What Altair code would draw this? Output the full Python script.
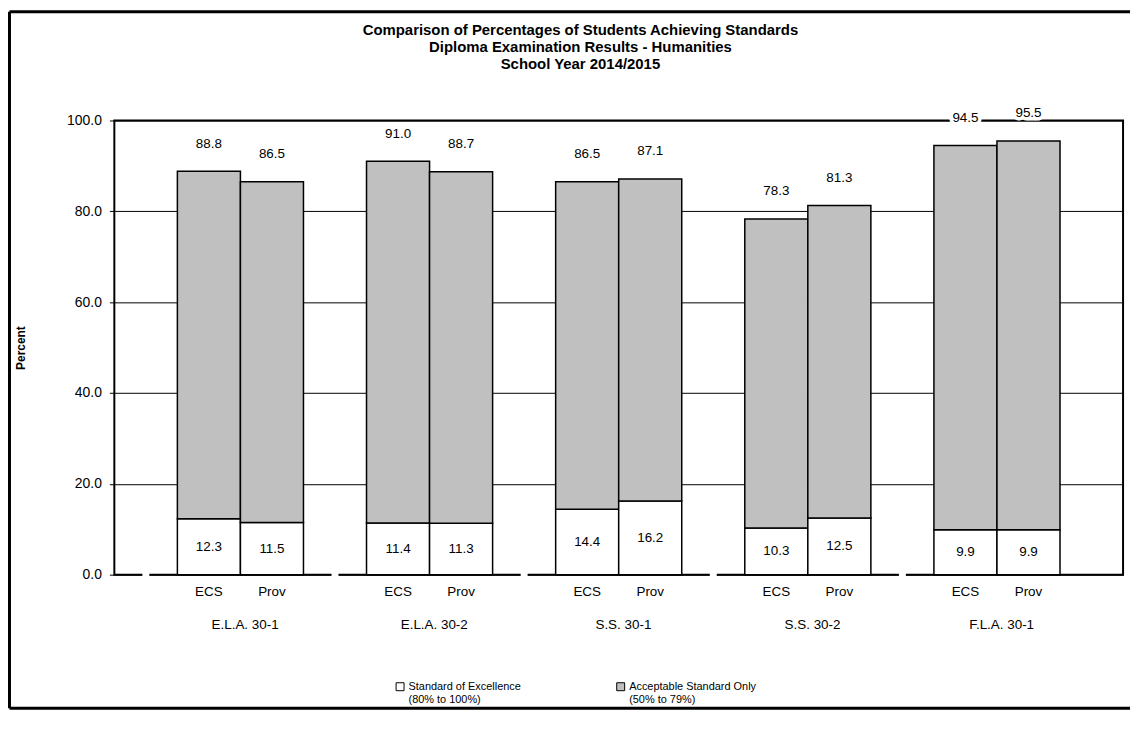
import altair as alt
import pandas as pd

# ---------------- data ----------------
groups = ["E.L.A. 30-1", "E.L.A. 30-2", "S.S. 30-1", "S.S. 30-2", "F.L.A. 30-1"]
sources = ["ECS", "Prov"]
excellence = [12.3, 11.5, 11.4, 11.3, 14.4, 16.2, 10.3, 12.5, 9.9, 9.9]
acceptable_total = [88.8, 86.5, 91.0, 88.7, 86.5, 87.1, 78.3, 81.3, 94.5, 95.5]
series_names = ["Standard of Excellence", "Acceptable Standard Only"]
series_ranges = ["(80% to 100%)", "(50% to 79%)"]
series_colors = ["#FFFFFF", "#C0C0C0"]
title_lines = [
    "Comparison of Percentages of Students Achieving Standards",
    "Diploma Examination Results - Humanities",
    "School Year 2014/2015",
]
y_ticks = [0, 20, 40, 60, 80, 100]
y_title = "Percent"

FONT = "Liberation Sans"
W, H = 1015, 457

# slots on the category axis: a blank slot before every group, one at the end
slots = []
for g in groups:
    slots += [f"{g}|", f"{g}|{sources[0]}", f"{g}|{sources[1]}"]
slots.append("end|")
gap_slots = [f"{g}|" for g in groups]

legend_labels = [f"{n}|{r}" for n, r in zip(series_names, series_ranges)]

seg_rows, bar_rows = [], []
i = 0
for g in groups:
    for s in sources:
        exc, tot = excellence[i], acceptable_total[i]
        slot = f"{g}|{s}"
        seg_rows.append(dict(slot=slot, series=legend_labels[0], lo=0.0, hi=exc))
        seg_rows.append(dict(slot=slot, series=legend_labels[1], lo=exc, hi=tot))
        bar_rows.append(dict(slot=slot, exc=exc, total=tot))
        i += 1
seg_df = pd.DataFrame(seg_rows)
bar_df = pd.DataFrame(bar_rows)
gap_df = pd.DataFrame({"slot": gap_slots})
group_df = pd.DataFrame({"slot": [f"{g}|{sources[1]}" for g in groups], "group": groups})
one = pd.DataFrame({"k": [0]})

x_scale = alt.Scale(domain=slots, paddingInner=0, paddingOuter=0)
y_scale = alt.Scale(domain=[0, 100], nice=False)

x_enc = alt.X(
    "slot:N",
    scale=x_scale,
    sort=slots,
    title=None,
    axis=alt.Axis(
        labelExpr="split(datum.label, '|')[1]",
        labelAngle=0,
        labelFont=FONT,
        labelFontSize=13.5,
        labelColor="black",
        labelPadding=10,
        ticks=False,
        tickSize=0,
        domain=False,
        labelOverlap=False,
    ),
)

bars = alt.Chart(seg_df).mark_bar(stroke="black", strokeWidth=1.5).encode(
    x=x_enc,
    y=alt.Y(
        "lo:Q",
        scale=y_scale,
        title=y_title,
        axis=alt.Axis(
            values=y_ticks,
            format=".1f",
            grid=True,
            gridColor="black",
            gridWidth=1,
            gridOpacity=1,
            domain=False,
            tickColor="black",
            tickSize=5,
            tickWidth=1,
            labelFont=FONT,
            labelFontSize=14,
            labelColor="black",
            labelPadding=8,
            titleFont=FONT,
            titleFontSize=12,
            titleFontWeight="bold",
            titleColor="black",
            titleX=-87,
            titleY=H / 2,
        ),
    ),
    y2="hi:Q",
    fill=alt.Fill(
        "series:N",
        scale=alt.Scale(domain=legend_labels, range=series_colors),
        legend=alt.Legend(
            title=None,
            orient="none",
            direction="horizontal",
            legendX=282,
            legendY=564,
            labelExpr="split(datum.label, '|')",
            labelFont=FONT,
            labelFontSize=11,
            labelColor="black",
            labelOffset=3,
            symbolType="square",
            symbolSize=64,
            symbolStrokeColor="black",
            symbolStrokeWidth=1,
            symbolOpacity=1,
            columnPadding=93,
            padding=0,
        ),
    ),
)

gaps = alt.Chart(gap_df).mark_tick(color="white", thickness=4, size=7, opacity=1).encode(
    x=alt.X("slot:N", scale=x_scale, sort=slots),
    y=alt.datum(0, scale=y_scale),
)

halo = alt.Chart(bar_df).mark_text(
    dy=-28, font=FONT, fontSize=13.5, stroke="white", strokeWidth=7, color="white", baseline="middle"
).encode(
    x=alt.X("slot:N", scale=x_scale, sort=slots),
    y=alt.Y("total:Q", scale=y_scale),
    text=alt.Text("total:Q", format=".1f"),
)

totals = alt.Chart(bar_df).mark_text(
    dy=-28, font=FONT, fontSize=13.5, color="black", baseline="middle"
).encode(
    x=alt.X("slot:N", scale=x_scale, sort=slots),
    y=alt.Y("total:Q", scale=y_scale),
    text=alt.Text("total:Q", format=".1f"),
)

inner = alt.Chart(bar_df).transform_calculate(mid="datum.exc / 2").mark_text(
    font=FONT, fontSize=13.5, color="black", baseline="middle"
).encode(
    x=alt.X("slot:N", scale=x_scale, sort=slots),
    y=alt.Y("mid:Q", scale=y_scale),
    text=alt.Text("exc:Q", format=".1f"),
)

group_labels = alt.Chart(group_df).mark_text(
    font=FONT, fontSize=13.5, color="black", baseline="middle", dx=-27
).encode(
    x=alt.X("slot:N", scale=x_scale, sort=slots),
    y=alt.value(H + 51),
    text="group:N",
)

title = alt.Chart(one).mark_text(
    font=FONT, fontSize=15, fontWeight="bold", color="black",
    baseline="top", align="center", lineHeight=17,
).encode(
    x=alt.value(469), y=alt.value(-98), text=alt.value(title_lines)
)

frame_left = alt.Chart(one).mark_rule(color="black", strokeWidth=3).encode(
    x=alt.value(-105.5), y=alt.value(-109.5), y2=alt.value(591.5)
)
frame_top = alt.Chart(one).mark_rule(color="black", strokeWidth=3).encode(
    x=alt.value(-105.5), x2=alt.value(1022), y=alt.value(-109.5)
)
frame_bottom = alt.Chart(one).mark_rule(color="black", strokeWidth=3).encode(
    x=alt.value(-105.5), x2=alt.value(1022), y=alt.value(591.5)
)

chart = (
    alt.layer(bars, gaps, halo, totals, inner, group_labels, title,
              frame_left, frame_top, frame_bottom)
    .properties(width=W, height=H, padding=0, background="white")
    .configure_view(stroke="black", strokeWidth=2)
)

chart.save("out.html", embed_options={"renderer": "svg", "actions": False})
